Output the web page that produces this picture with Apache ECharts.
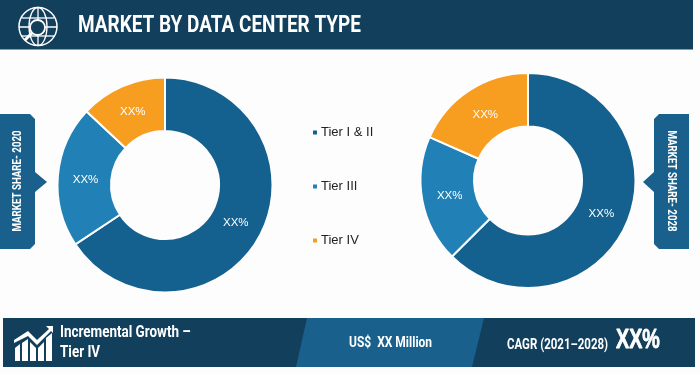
<!DOCTYPE html>
<html>
<head>
<meta charset="utf-8">
<style>
html, body { margin: 0; padding: 0; background: #fdfdfd; }
#chart { width: 700px; height: 374px; }
</style>
<script src="https://cdn.jsdelivr.net/npm/echarts@6/dist/echarts.min.js"></script>
</head>
<body>
<div id="chart"></div>
<script>
// data
var categories = ['Tier I & II', 'Tier III', 'Tier IV'];
var share2020 = [65.7, 21.3, 13];
var share2028 = [62.5, 19.1, 18.4];
var colors = ['#14608f', '#2180b5', '#f79e20'];
var sliceLabel = 'XX%';

var titleText = 'MARKET BY DATA CENTER TYPE';
var leftTag = 'MARKET SHARE- 2020';
var rightTag = 'MARKET SHARE- 2028';

var navy = '#123f5c';
var midBlue = '#19608c';
var condensed = 'Roboto, sans-serif';

var myChart = echarts.init(document.getElementById('chart'));

// nudge = small label shifts per slice, the labels in the picture are not quite mid ring
function donut(center, values, nudge) {
    return {
        type: 'pie',
        center: center,
        radius: [54, 107.5],
        startAngle: 90,
        clockwise: true,
        silent: true,
        data: categories.map(function (name, i) {
            return { name: name, value: values[i], label: { offset: nudge[i] } };
        }),
        itemStyle: { borderColor: '#fdfdfd', borderWidth: 2 },
        label: {
            position: 'inside',
            formatter: sliceLabel,
            color: '#ffffff',
            fontFamily: 'Liberation Sans',
            fontSize: 11.5
        },
        labelLine: { show: false }
    };
}

function poly(points, fill) {
    return { type: 'polygon', shape: { points: points }, style: { fill: fill } };
}

function line(x1, y1, x2, y2, w) {
    return {
        type: 'line',
        shape: { x1: x1, y1: y1, x2: x2, y2: y2 },
        style: { stroke: '#ffffff', lineWidth: w || 1.5 }
    };
}

// no condensed font installed, so squeeze the text with scaleX
function txt(x, y, text, size, squeeze, opts) {
    opts = opts || {};
    return {
        type: 'text',
        x: x,
        y: y,
        scaleX: squeeze,
        rotation: opts.rotation || 0,
        style: {
            text: text,
            fill: '#ffffff',
            stroke: opts.heavy ? '#ffffff' : null,
            lineWidth: opts.heavy || 0,
            font: 'bold ' + size + 'px ' + (opts.family || condensed),
            textAlign: opts.align || 'left',
            textVerticalAlign: 'middle'
        }
    };
}

// header globe with the magnifier
var globeIcon = [
    { type: 'circle', shape: { cx: 38, cy: 26.5, r: 19 }, style: { fill: 'none', stroke: '#fff', lineWidth: 1.5 } },
    { type: 'ellipse', shape: { cx: 38, cy: 26.5, rx: 9, ry: 19 }, style: { fill: 'none', stroke: '#fff', lineWidth: 1.3 } },
    line(38, 7, 38, 46, 1.3),
    line(22, 18, 54, 18, 1.3),
    line(22, 36, 54, 36, 1.3),
    line(19, 27, 57, 27, 1.3),
    { type: 'circle', shape: { cx: 37.5, cy: 27.5, r: 7.5 }, style: { fill: navy, stroke: '#fff', lineWidth: 1.8 } },
    line(32, 33, 25, 40, 3)
];

// growth icon in the bottom band
var growthIcon = [
    poly([[15, 361], [15, 348], [20, 344], [20, 361]], '#fff'),
    poly([[22, 361], [22, 343], [28, 339], [28, 361]], '#fff'),
    poly([[30, 361], [30, 342], [36, 348], [36, 361]], '#fff'),
    poly([[38, 361], [38, 348], [44, 342], [44, 361]], '#fff'),
    poly([[46, 361], [46, 338], [52, 333], [52, 361]], '#fff'),
    poly([[14, 343], [14, 340], [28, 331], [37, 340], [49, 329], [46, 326], [53, 326], [53, 333], [51, 331], [37, 345], [28, 336]], '#fff')
];

var option = {
    backgroundColor: '#fdfdfd',
    animation: false,
    color: colors,
    legend: {
        orient: 'vertical',
        left: 311,
        top: 126,
        padding: 0,
        itemWidth: 6,
        itemHeight: 6,
        itemGap: 41,
        icon: 'rect',
        selectedMode: false,
        data: categories,
        textStyle: { color: '#222222', fontFamily: 'Liberation Sans', fontSize: 13, padding: [0, 0, 0, -2] }
    },
    series: [
        donut([165, 185], share2020, [[-3, -2], [4, 2], [1, 4]]),
        donut([528, 180.5], share2028, [[-4, 1], [4, 0], [3, 4]])
    ],
    graphic: [
        { type: 'rect', shape: { x: 0, y: 0, width: 693, height: 49.5 }, style: { fill: navy } },
        txt(78, 26, titleText, 24, 0.79),
        poly([[0, 114], [30, 114], [35, 119], [35, 172], [47, 182], [35, 192], [35, 244], [30, 249], [0, 249]], midBlue),
        txt(18, 181, leftTag, 12, 0.81, { rotation: Math.PI / 2, align: 'center' }),
        poly([[659, 114], [689, 114], [689, 249], [659, 249], [654, 244], [654, 192], [643, 182], [654, 172], [654, 119]], midBlue),
        txt(671, 181, rightTag, 12, 0.81, { rotation: -Math.PI / 2, align: 'center' }),
        { type: 'rect', shape: { x: 3, y: 318, width: 692, height: 49 }, style: { fill: navy } },
        poly([[307, 318], [484, 318], [472, 367], [296, 367]], midBlue),
        txt(60, 333, 'Incremental Growth \u2013', 16, 0.84),
        txt(60, 353, 'Tier IV', 16, 0.84),
        txt(349, 343, 'US$  XX Million', 15, 0.8),
        txt(507, 345, 'CAGR (2021\u20132028)', 14, 0.82),
        txt(616, 341, 'XX%', 27, 0.73, { family: '"Liberation Sans"', heavy: 0.8 })
    ].concat(globeIcon, growthIcon)
};

myChart.setOption(option);
</script>
</body>
</html>
